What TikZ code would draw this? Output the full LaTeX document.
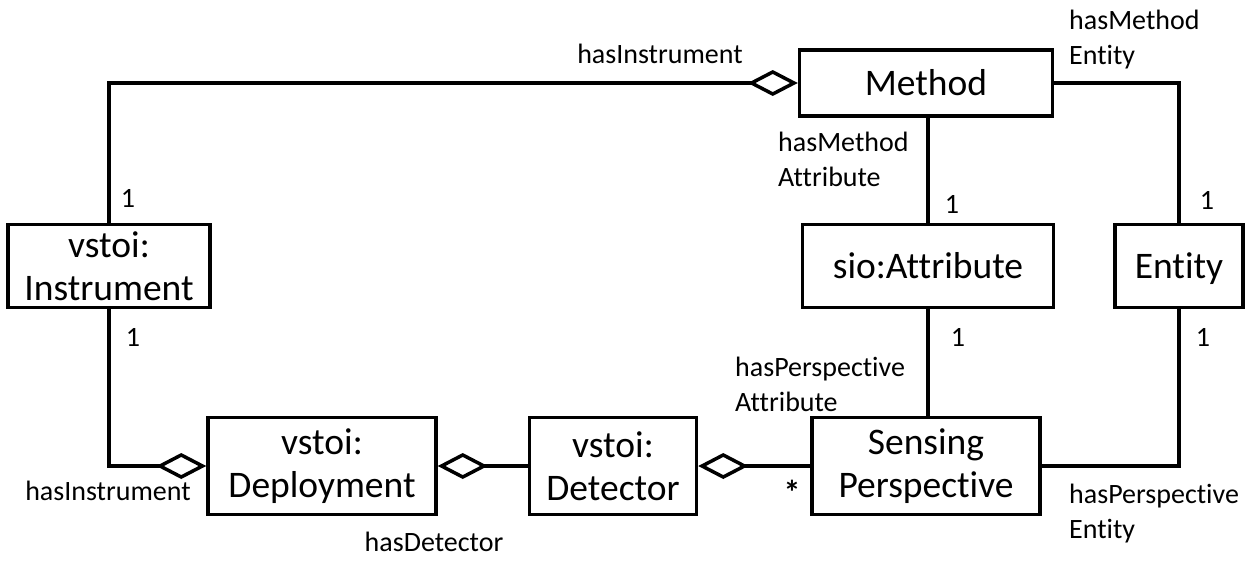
\documentclass[tikz,border=0pt]{standalone}
\usepackage{fontspec}
\setmainfont[Ligatures=NoCommon]{Carlito}
\usetikzlibrary{arrows.meta}
\begin{document}
\begin{tikzpicture}[x=1pt,y=-1pt,
  box/.style={draw,line width=3.5pt,align=center,font=\fontsize{37.5}{43}\selectfont,inner sep=0pt},
  one/.style={text height=33pt,text depth=8pt},
  lbl/.style={font=\fontsize{28}{35}\selectfont,inner sep=0pt,align=left},
  conn/.style={line width=3.5pt},
  agg/.style={conn,{Diamond[open,length=50pt,width=26pt,line width=3.5pt]}-}]
\useasboundingbox (0,0) rectangle (1256,560);
\node[box,one,minimum width=253pt,minimum height=66pt] (meth) at (926,83) {Method};
\node[box,minimum width=202pt,minimum height=83pt] (inst) at (109,266) {vstoi:\\Instrument};
\node[box,one,minimum width=251pt,minimum height=83pt] (attr) at (928,266) {sio:Attribute};
\node[box,one,minimum width=128pt,minimum height=83pt] (ent) at (1179,266) {Entity};
\node[box,minimum width=228pt,minimum height=97pt] (dep) at (322,466) {vstoi:\\Deployment};
\node[box,minimum width=167pt,minimum height=97pt] (det) at (613,466) {vstoi:\\Detector};
\node[box,minimum width=228pt,minimum height=97pt] (sens) at (926,466) {Sensing\\Perspective};

\draw[agg] (meth.west) -- (meth.west -| inst.north) -- (inst.north);
\draw[agg] (dep.west) -- (dep.west -| inst.south) -- (inst.south);
\draw[agg] (dep.east) -- (det.west);
\draw[agg] (det.east) -- (sens.west);
\draw[conn] (meth.south -| attr.north) -- (attr.north);
\draw[conn] (attr.south) -- (attr.south |- sens.north);
\draw[conn] (meth.east) -- (meth.east -| ent.north) -- (ent.north);
\draw[conn] (ent.south) -- (ent.south |- sens.east) -- (sens.east);

\node[lbl] (l1) at (660,54) {hasInstrument};
\node[lbl,anchor=north west] (l2) at (1069,10) {hasMethod\\Entity};
\node[lbl,anchor=north west] (l3) at (778,132) {hasMethod\\Attribute};
\node[lbl,anchor=north west] (l4) at (735,357) {hasPerspective\\Attribute};
\node[lbl,anchor=north west] (l5) at (1069,484) {hasPerspective\\Entity};
\node[lbl] (l6) at (108,491) {hasInstrument};
\node[lbl] (l7) at (434,542) {hasDetector};
\node[font=\fontsize{34}{40}\selectfont\bfseries,inner sep=0pt] (s1) at (792,492) {*};
\node[lbl] (n1) at (128,198) {1};
\node[lbl] (n2) at (133,337) {1};
\node[lbl] (n3) at (952,204) {1};
\node[lbl] (n4) at (1207,200) {1};
\node[lbl] (n5) at (958,337) {1};
\node[lbl] (n6) at (1203,337) {1};
\end{tikzpicture}
\end{document}
